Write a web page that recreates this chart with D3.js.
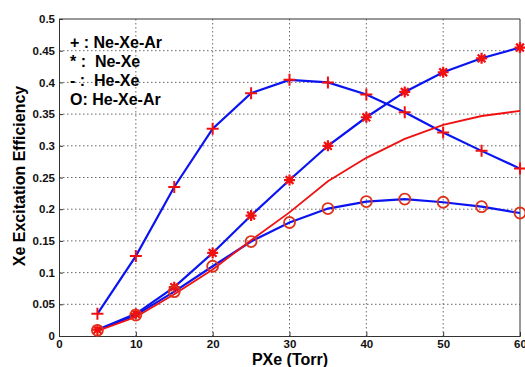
<!DOCTYPE html>
<html><head><meta charset="utf-8">
<script src="https://cdn.jsdelivr.net/npm/d3@7"></script>
<style>body{margin:0;background:#fff}svg{display:block}text{font-family:"Liberation Sans",Arial,sans-serif;font-weight:bold}</style>
</head><body><svg id="c" width="525" height="367"></svg>
<script>
const pxe = [5,10,15,20,25,30,35,40,45,50,55,60];
const neXeAr = [0.035,0.126,0.235,0.327,0.383,0.404,0.400,0.381,0.353,0.321,0.292,0.264];
const neXe   = [0.010,0.035,0.077,0.131,0.190,0.246,0.300,0.345,0.385,0.416,0.438,0.455];
const heXe   = [0.008,0.030,0.066,0.105,0.151,0.195,0.244,0.281,0.311,0.333,0.347,0.355];
const heXeAr = [0.009,0.033,0.070,0.110,0.149,0.179,0.201,0.212,0.216,0.211,0.204,0.194];
const xTicks = [0,10,20,30,40,50,60];
const yTicks = [0,0.05,0.1,0.15,0.2,0.25,0.3,0.35,0.4,0.45,0.5];
const legendLines = ["+ : Ne-Xe-Ar","* :  Ne-Xe","- :  He-Xe","O: He-Xe-Ar"];

const svg = d3.select("#c");
const L=59,R=520,T=19,B=336;
const x = d3.scaleLinear().domain([0,60]).range([L,R]);
const y = d3.scaleLinear().domain([0,0.5]).range([B,T]);

// grid
const g = svg.append("g");
g.selectAll(".gx").data(xTicks.slice(1,-1)).join("line")
 .attr("x1",d=>x(d)).attr("x2",d=>x(d)).attr("y1",T).attr("y2",B)
 .attr("stroke","#444").attr("stroke-width",0.8).attr("stroke-dasharray","1.5,2.5");
g.selectAll(".gy").data(yTicks.slice(1,-1)).join("line")
 .attr("y1",d=>y(d)).attr("y2",d=>y(d)).attr("x1",L).attr("x2",R)
 .attr("stroke","#444").attr("stroke-width",0.8).attr("stroke-dasharray","1.5,2.5");

// axes
const xa = svg.append("g").attr("transform",`translate(0,${B})`)
 .call(d3.axisBottom(x).tickValues(xTicks).tickSize(-4).tickPadding(4).tickFormat(d3.format("d")));
const ya = svg.append("g").attr("transform",`translate(${L},0)`)
 .call(d3.axisLeft(y).tickValues(yTicks).tickSize(-4).tickPadding(4).tickFormat(d=>d===0?"0":String(+d.toFixed(2))));
[xa,ya].forEach(a=>{a.select(".domain").attr("stroke","#333").attr("stroke-width",1);
 a.selectAll(".tick line").attr("stroke","#333");
 a.selectAll("text").attr("font-size",11.5).attr("fill","#111").attr("font-family","Liberation Sans, Arial").attr("font-weight","bold");});
// top/right box
svg.append("line").attr("x1",L).attr("x2",R).attr("y1",T).attr("y2",T).attr("stroke","#333");
svg.append("line").attr("x1",R).attr("x2",R).attr("y1",T).attr("y2",B).attr("stroke","#333");

const line = d3.line().x((d,i)=>x(pxe[i])).y(d=>y(d));
const blue="#0a14f0", red="#f01010", ored="#e0321a";
[[neXeAr,blue,2.2],[neXe,blue,2.2],[heXeAr,blue,2.2],[heXe,red,1.8]].forEach(([arr,c,w])=>{
 svg.append("path").attr("d",line(arr)).attr("fill","none").attr("stroke",c).attr("stroke-width",w);
});

// markers
const m = svg.append("g");
m.selectAll(".p").data(neXeAr).join("path")
 .attr("d",(d,i)=>{const cx=x(pxe[i]),cy=y(d),s=6;return `M${cx-s},${cy}H${cx+s}M${cx},${cy-s}V${cy+s}`;})
 .attr("stroke",red).attr("stroke-width",2).attr("fill","none");
m.selectAll(".s").data(neXe).join("path")
 .attr("d",(d,i)=>{const cx=x(pxe[i]),cy=y(d),s=5.5,t=s*0.707;
   return `M${cx-s},${cy}H${cx+s}M${cx},${cy-s}V${cy+s}M${cx-t},${cy-t}L${cx+t},${cy+t}M${cx-t},${cy+t}L${cx+t},${cy-t}`;})
 .attr("stroke",red).attr("stroke-width",2.2).attr("fill","none");
m.selectAll(".o").data(heXeAr).join("circle")
 .attr("cx",(d,i)=>x(pxe[i])).attr("cy",d=>y(d)).attr("r",5.5)
 .attr("stroke",ored).attr("stroke-width",1.8).attr("fill","none");

// legend
svg.selectAll(".lg").data(legendLines).join("text")
 .attr("x",70).attr("y",(d,i)=>48+i*19).attr("font-size",16).attr("fill","#000")
 .attr("xml:space","preserve").style("white-space","pre").text(d=>d);

// axis labels
svg.append("text").attr("x",290).attr("y",365).attr("text-anchor","middle").attr("font-size",16).text("PXe (Torr)");
svg.append("text").attr("transform","translate(25,176) rotate(-90)").attr("text-anchor","middle").attr("font-size",16).text("Xe Excitation Efficiency");
</script></body></html>
